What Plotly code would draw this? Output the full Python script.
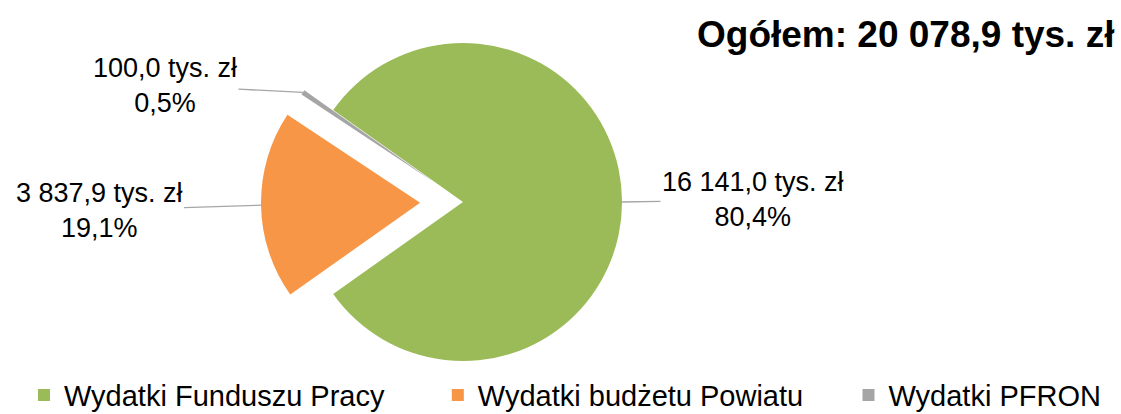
import math
import plotly.graph_objects as go

# data
labels = ["Wydatki Funduszu Pracy", "Wydatki budżetu Powiatu", "Wydatki PFRON"]
values = [16141.0, 3837.9, 100.0]
shares = ["80,4%", "19,1%", "0,5%"]
value_text = ["16 141,0 tys. zł", "3 837,9 tys. zł", "100,0 tys. zł"]
total_text = "Ogółem: 20 078,9 tys. zł"

colors = ["#9BBB59", "#F79646", "#A5A5A5"]
pulls = [0, 0.27, 0.22]
rotation = -54.7

W, H = 1121, 414
dom_x = [0, 926 / W]
dom_y = [10 / H, 1]
FONT = "Arial, Liberation Sans, sans-serif"

# non-breaking padding so the horizontal legend entries are spread like the original
NBSP = "\u00a0"
legend_pad = [6, 5, 0]

fig = go.Figure(go.Pie(
    labels=[lab + NBSP * p for lab, p in zip(labels, legend_pad)],
    values=values, sort=False, direction="clockwise",
    rotation=rotation, pull=pulls, textinfo="none", hoverinfo="label+value",
    marker=dict(colors=colors, line=dict(width=0)),
    domain=dict(x=dom_x, y=dom_y),
))

# geometry of the pie as plotly lays it out (margins are zero)
box_w = W * (dom_x[1] - dom_x[0])
box_h = H * (dom_y[1] - dom_y[0])
r = min(box_w, box_h) / 2 / (1 + max(pulls))
cx = W * (dom_x[0] + dom_x[1]) / 2
cy = H * (1 - dom_y[0]) - box_h / 2

# label offsets in pixels (text centre relative to arc point)
offsets = [(131, -2), (-162, 5), (-138, -7)]

total = sum(values)
start = rotation
for i, v in enumerate(values):
    span = v / total * 360
    mid = math.radians(start + span / 2)
    start += span
    dist = r * (1 + pulls[i])
    px = cx + dist * math.sin(mid)
    py = cy - dist * math.cos(mid)
    fig.add_annotation(
        x=px / W, y=1 - py / H, xref="paper", yref="paper",
        text=f"{value_text[i]}<br>{shares[i]}",
        showarrow=True, arrowhead=0, arrowwidth=1.3, arrowcolor="#A6A6A6",
        ax=offsets[i][0], ay=offsets[i][1], standoff=0,
        font=dict(size=27, color="#000000", family=FONT), align="center",
    )

fig.add_annotation(
    x=1116 / W, y=1 - 34 / H, xref="paper", yref="paper", xanchor="right", yanchor="middle",
    text=f"<b>{total_text}</b>", showarrow=False,
    font=dict(size=37, color="#000000", family=FONT),
)

fig.update_layout(
    width=W, height=H, margin=dict(l=0, r=0, t=0, b=0, autoexpand=False),
    paper_bgcolor="white", plot_bgcolor="white",
    showlegend=True,
    legend=dict(
        orientation="h", x=24 / W, xanchor="left", y=-0.016, yanchor="bottom",
        font=dict(size=29, color="#000000", family=FONT),
        bgcolor="rgba(0,0,0,0)",
    ),
)

fig.write_html("out.html", config={"displayModeBar": False},
               post_script="document.body.style.margin='0';")
